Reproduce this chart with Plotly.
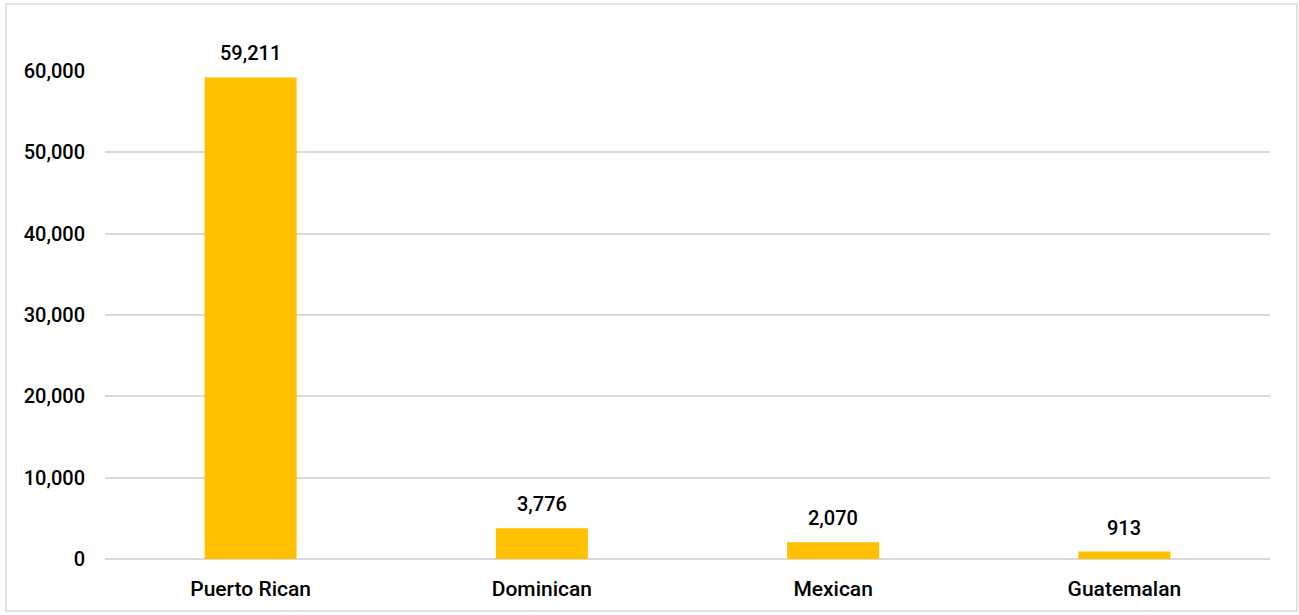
import plotly.graph_objects as go

categories = ["Puerto Rican", "Dominican", "Mexican", "Guatemalan"]
values = [59211, 3776, 2070, 913]
y_ticks = [0, 10000, 20000, 30000, 40000, 50000, 60000]

W, H = 1299, 615
L, R, T, B = 105, 29, 71, 56
pw, ph = W - L - R, H - T - B

FONT = "Roboto, Liberation Sans, sans-serif"
FS = 20
WT = 500

fig = go.Figure(
    go.Bar(
        x=categories,
        y=values,
        marker=dict(color="#FFC000", line=dict(width=0)),
        hoverinfo="skip",
    )
)

for c, v in zip(categories, values):
    fig.add_annotation(
        x=c, y=v, text=f"{v:,}", showarrow=False,
        yanchor="bottom", yshift=10,
        font=dict(family=FONT, size=FS, color="#000000", weight=WT),
    )

# outer chart frame
fig.add_shape(
    type="rect", xref="paper", yref="paper",
    x0=(6 - L) / pw, x1=(1297 - L) / pw,
    y0=(T + ph - 611) / ph, y1=(T + ph - 4) / ph,
    line=dict(color="#D9D9D9", width=1.5), fillcolor="rgba(0,0,0,0)",
    layer="below",
)

fig.update_layout(
    width=W, height=H,
    margin=dict(l=L, r=R, t=T, b=B),
    paper_bgcolor="white", plot_bgcolor="white",
    bargap=0.684,
    showlegend=False,
    font=dict(family=FONT, size=FS, color="#000000"),
    xaxis=dict(
        showgrid=False, zeroline=False, showline=False,
        ticks="", ticklabelstandoff=15,
        tickfont=dict(family=FONT, size=21, color="#000000", weight=WT),
    ),
    yaxis=dict(
        range=[0, 60000], tickvals=y_ticks,
        ticktext=[f"{t:,}" for t in y_ticks],
        showgrid=True, gridcolor="#D9D9D9", gridwidth=1.5,
        zeroline=True, zerolinecolor="#D9D9D9", zerolinewidth=1.5,
        showline=False, ticks="", ticklabelstandoff=19,
        tickfont=dict(family=FONT, size=FS, color="#000000", weight=WT),
    ),
)

fig.write_html("out.html")
